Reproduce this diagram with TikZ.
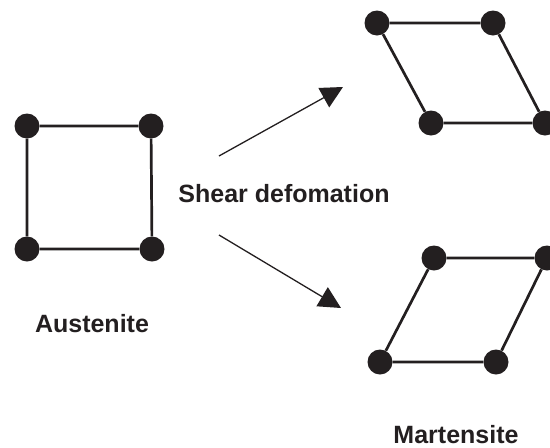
\documentclass[tikz,border=0pt]{standalone}
\usepackage{fontspec}
\setmainfont{Liberation Sans}
\usepackage{tikz}
\usetikzlibrary{arrows.meta, calc}
\definecolor{ink}{RGB}{35,31,32}

\tikzset{
	atom/.style={circle, fill=ink, minimum size=25pt, inner sep=0pt},
	bond/.style={draw=ink, line width=2.7pt},
	shear/.style={draw=ink, line width=1.3pt, -{Triangle[length=22pt, width=22pt]}},
	label/.style={text=ink, inner sep=0pt, font=\fontsize{25}{30}\selectfont\bfseries}
}

\begin{document}
\begin{tikzpicture}[x=1pt, y=-1pt]
	\useasboundingbox (0,0) rectangle (550,448);%
	%
	% austenite
	\node[atom] (a1) at (27,126) {};%
	\node[atom] (a2) at (151,126) {};%
	\node[atom] (a3) at (152,249) {};%
	\node[atom] (a4) at (27,249) {};%
	\draw[bond] (a1) -- (a2) -- (a3) -- (a4) -- (a1);%
	%
	% martensite, upper
	\node[atom] (m1) at (377,23) {};%
	\node[atom] (m2) at (493,23) {};%
	\node[atom] (m3) at (545,123) {};%
	\node[atom] (m4) at (431,123) {};%
	\draw[bond] (m1) -- (m2) -- (m3) -- (m4) -- (m1);%
	%
	% martensite, lower
	\node[atom] (n1) at (434,258) {};%
	\node[atom] (n2) at (547,258) {};%
	\node[atom] (n3) at (496,362) {};%
	\node[atom] (n4) at (380,362) {};%
	\draw[bond] (n1) -- (n2) -- (n3) -- (n4) -- (n1);%
	%
	% shear arrows
	\coordinate (up-from) at (219,156);%
	\coordinate (up-to) at (343,87);%
	\coordinate (down-from) at (219,235);%
	\coordinate (down-to) at (341,308);%
	\draw[shear] (up-from) -- (up-to);%
	\draw[shear] (down-from) -- (down-to);%
	%
	\node[label] (shear) at (284,194) {Shear defomation};%
	\node[label] (aust) at (92,324) {Austenite};%
	\node[label] (mart) at (456,435) {Martensite};%
\end{tikzpicture}
\end{document}
